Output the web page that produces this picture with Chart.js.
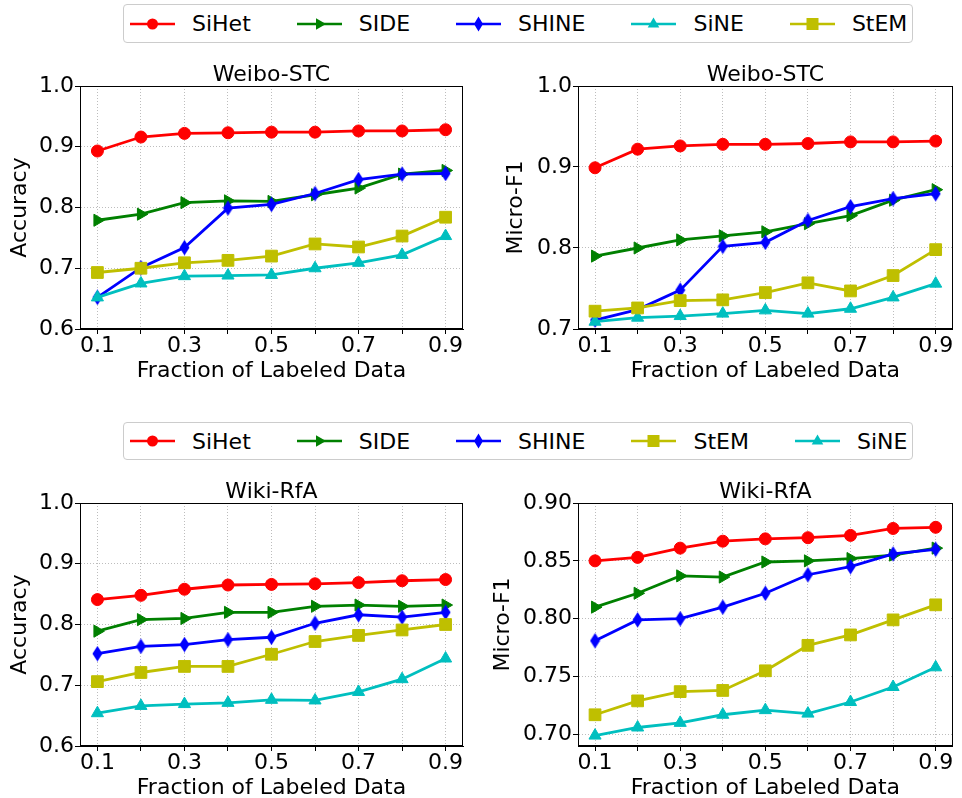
<!DOCTYPE html>
<html>
<head>
<meta charset="utf-8">
<title>Fraction of Labeled Data</title>
<script src="https://cdn.jsdelivr.net/npm/chart.js@4.4.0/dist/chart.umd.min.js"></script>
<style>
  html, body { margin: 0; padding: 0; background: #fff; overflow: hidden; }
  body { width: 962px; height: 798px; position: relative; font-family: "DejaVu Sans", sans-serif; }
  canvas.panel { position: absolute; }
  .legend {
    position: absolute; left: 123px; box-sizing: border-box;
    border: 1px solid #cccccc; border-radius: 4px; background: #fff;
    display: flex; align-items: center; padding: 0 5px 0 6px;
    font-size: 22px; color: #000; white-space: nowrap;
  }
  .legend .item { display: flex; align-items: center; margin-right: 46px; }
  .legend .item:last-child { margin-right: 0; }
  .legend svg { margin-right: 17px; display: block; }
</style>
</head>
<body>
<div class="legend" id="legendTop" style="top:4px;height:39px;"></div>
<div class="legend" id="legendBottom" style="top:422px;height:38px;"></div>
<canvas class="panel" id="weiboAcc" width="480" height="332" style="left:0;top:50px;"></canvas>
<canvas class="panel" id="weiboF1" width="482" height="332" style="left:480px;top:50px;"></canvas>
<canvas class="panel" id="wikiAcc" width="480" height="332" style="left:0;top:467px;"></canvas>
<canvas class="panel" id="wikiF1" width="482" height="332" style="left:480px;top:467px;"></canvas>
<script>
const fractions = [0.1, 0.2, 0.3, 0.4, 0.5, 0.6, 0.7, 0.8, 0.9];
const xTickLabels = ['0.1', '', '0.3', '', '0.5', '', '0.7', '', '0.9'];

const accTicks = [0.6, 0.7, 0.8, 0.9, 1.0];
const accTickLabels = ['0.6', '0.7', '0.8', '0.9', '1.0'];
const weiboF1Ticks = [0.7, 0.8, 0.9, 1.0];
const weiboF1TickLabels = ['0.7', '0.8', '0.9', '1.0'];
const wikiF1Ticks = [0.70, 0.75, 0.80, 0.85, 0.90];
const wikiF1TickLabels = ['0.70', '0.75', '0.80', '0.85', '0.90'];

// Weibo-STC, accuracy
const weiboAccSiHet = [0.893, 0.916, 0.922, 0.923, 0.924, 0.924, 0.926, 0.926, 0.928];
const weiboAccSIDE  = [0.779, 0.789, 0.808, 0.811, 0.810, 0.821, 0.832, 0.855, 0.861];
const weiboAccSHINE = [0.652, 0.701, 0.734, 0.799, 0.805, 0.823, 0.846, 0.855, 0.856];
const weiboAccSiNE  = [0.652, 0.675, 0.687, 0.688, 0.689, 0.700, 0.709, 0.722, 0.753];
const weiboAccStEM  = [0.693, 0.700, 0.709, 0.713, 0.720, 0.740, 0.735, 0.753, 0.784];

// Weibo-STC, micro-F1
const weiboF1SiHet = [0.899, 0.922, 0.926, 0.928, 0.928, 0.929, 0.931, 0.931, 0.932];
const weiboF1SIDE  = [0.790, 0.800, 0.810, 0.815, 0.820, 0.830, 0.840, 0.859, 0.872];
const weiboF1SHINE = [0.711, 0.724, 0.748, 0.802, 0.807, 0.834, 0.851, 0.861, 0.867];
const weiboF1SiNE  = [0.709, 0.714, 0.716, 0.719, 0.723, 0.719, 0.725, 0.739, 0.756];
const weiboF1StEM  = [0.722, 0.726, 0.735, 0.736, 0.745, 0.757, 0.747, 0.766, 0.798];

// Wiki-RfA, accuracy
const wikiAccSiHet = [0.841, 0.848, 0.858, 0.865, 0.866, 0.867, 0.869, 0.872, 0.874];
const wikiAccSIDE  = [0.789, 0.808, 0.810, 0.820, 0.820, 0.830, 0.832, 0.830, 0.832];
const wikiAccSHINE = [0.752, 0.764, 0.767, 0.775, 0.779, 0.802, 0.816, 0.812, 0.820];
const wikiAccSiNE  = [0.654, 0.666, 0.669, 0.671, 0.676, 0.675, 0.689, 0.710, 0.744];
const wikiAccStEM  = [0.706, 0.721, 0.731, 0.731, 0.751, 0.772, 0.782, 0.791, 0.800];

// Wiki-RfA, micro-F1
const wikiF1SiHet = [0.850, 0.853, 0.861, 0.867, 0.869, 0.870, 0.872, 0.878, 0.879];
const wikiF1SIDE  = [0.810, 0.822, 0.837, 0.836, 0.849, 0.850, 0.852, 0.855, 0.861];
const wikiF1SHINE = [0.781, 0.799, 0.800, 0.810, 0.822, 0.838, 0.845, 0.856, 0.860];
const wikiF1SiNE  = [0.699, 0.706, 0.710, 0.717, 0.721, 0.718, 0.728, 0.741, 0.758];
const wikiF1StEM  = [0.717, 0.729, 0.737, 0.738, 0.755, 0.777, 0.786, 0.799, 0.812];

const topOrder = ['SiHet', 'SIDE', 'SHINE', 'SiNE', 'StEM'];
const bottomOrder = ['SiHet', 'SIDE', 'SHINE', 'StEM', 'SiNE'];

const FONT = 'DejaVu Sans';
Chart.defaults.font.family = FONT;
Chart.defaults.color = '#000';

// matplotlib-style thin diamond marker
function thinDiamond(color) {
    const c = document.createElement('canvas');
    c.width = 11;
    c.height = 16;
    const g = c.getContext('2d');
    g.fillStyle = color;
    g.beginPath();
    g.moveTo(5.5, 0.3);
    g.lineTo(10.5, 8);
    g.lineTo(5.5, 15.7);
    g.lineTo(0.5, 8);
    g.closePath();
    g.fill();
    return c;
}

const styles = {
    SiHet: { color: '#ff0000', pointStyle: 'circle', radius: 6, rotation: 0 },
    SIDE:  { color: '#008000', pointStyle: 'triangle', radius: 7, rotation: 90 },
    SHINE: { color: '#0000ff', pointStyle: thinDiamond('#0000ff'), radius: 7, rotation: 0 },
    SiNE:  { color: '#00bfbf', pointStyle: 'triangle', radius: 7, rotation: 0 },
    StEM:  { color: '#bfbf00', pointStyle: 'rect', radius: 8.3, rotation: 0 },
};

// box around the plot area (top and right spines too)
const framePlugin = {
    id: 'frame',
    afterDatasetsDraw(chart) {
        const { ctx, chartArea: a } = chart;
        ctx.save();
        ctx.strokeStyle = '#000';
        ctx.lineWidth = 1;
        ctx.strokeRect(Math.round(a.left) + 0.5, Math.round(a.top) + 0.5,
            Math.round(a.right) - Math.round(a.left) - 1, Math.round(a.bottom) - Math.round(a.top) - 1);
        ctx.restore();
    },
};

function drawPanel(id, cfg) {
    const datasets = cfg.order.map((name, i) => {
        const s = styles[name];
        return {
            label: name,
            data: fractions.map((x, j) => ({ x: x, y: cfg.values[name][j] })),
            borderColor: s.color,
            backgroundColor: s.color,
            borderWidth: 2.8,
            pointStyle: s.pointStyle,
            pointRadius: s.radius,
            pointRotation: s.rotation,
            pointBackgroundColor: s.color,
            pointBorderColor: s.color,
            pointBorderWidth: 1,
            tension: 0,
            order: cfg.order.length - i,
        };
    });

    new Chart(document.getElementById(id), {
        type: 'line',
        data: { datasets },
        plugins: [framePlugin],
        options: {
            responsive: false,
            animation: false,
            events: [],
            layout: { padding: { left: 0, right: cfg.rightPad, top: 0, bottom: 0 } },
            plugins: {
                legend: { display: false },
                tooltip: { enabled: false },
                title: { display: false },
            },
            scales: {
                x: {
                    type: 'linear',
                    position: 'bottom',
                    min: 0.06,
                    max: 0.94,
                    afterBuildTicks: (s) => { s.ticks = fractions.map((v) => ({ value: v })); },
                    afterFit: (s) => { s.height = 53; },
                    ticks: {
                        autoSkip: false,
                        maxRotation: 0,
                        padding: 1.5,
                        font: { size: 22, lineHeight: 1 },
                        callback: (v, i) => xTickLabels[i],
                    },
                    grid: { color: '#bdbdbd', lineWidth: 1, tickLength: 5, tickColor: '#000', tickWidth: 1 },
                    border: { color: '#000', width: 1, dash: [1, 2] },
                    title: {
                        display: true,
                        text: 'Fraction of Labeled Data',
                        font: { size: 22, lineHeight: 1 },
                        padding: { top: 0, bottom: 0 },
                    },
                },
                top: {
                    type: 'linear',
                    position: 'top',
                    min: 0.06,
                    max: 0.94,
                    afterFit: (s) => { s.height = 36; },
                    ticks: { display: false },
                    grid: { display: false, drawTicks: false },
                    border: { display: false },
                    title: {
                        display: true,
                        text: cfg.title,
                        font: { size: 22, lineHeight: 1 },
                        padding: { top: 14, bottom: 0 },
                    },
                },
                y: {
                    type: 'linear',
                    position: 'left',
                    min: cfg.yMin,
                    max: cfg.yMax,
                    afterBuildTicks: (s) => { s.ticks = cfg.yTicks.map((v) => ({ value: v })); },
                    afterFit: (s) => { s.width = cfg.yAxisWidth; },
                    ticks: {
                        padding: 1,
                        font: { size: 22, lineHeight: 1 },
                        callback: (v, i) => cfg.yTickLabels[i],
                    },
                    grid: { color: '#bdbdbd', lineWidth: 1, tickLength: 5, tickColor: '#000', tickWidth: 1 },
                    border: { color: '#000', width: 1, dash: [1, 2] },
                    title: {
                        display: true,
                        text: cfg.yLabel,
                        font: { size: 22, lineHeight: 1 },
                        padding: { top: cfg.yTitlePad, bottom: 0 },
                    },
                },
            },
        },
    });
}

drawPanel('weiboAcc', {
    title: 'Weibo-STC', yLabel: 'Accuracy',
    yMin: 0.6, yMax: 1.0, yTicks: accTicks, yTickLabels: accTickLabels,
    yAxisWidth: 80, yTitlePad: 9, rightPad: 17, order: topOrder,
    values: { SiHet: weiboAccSiHet, SIDE: weiboAccSIDE, SHINE: weiboAccSHINE, SiNE: weiboAccSiNE, StEM: weiboAccStEM },
});
drawPanel('weiboF1', {
    title: 'Weibo-STC', yLabel: 'Micro-F1',
    yMin: 0.7, yMax: 1.0, yTicks: weiboF1Ticks, yTickLabels: weiboF1TickLabels,
    yAxisWidth: 98, yTitlePad: 25, rightPad: 2, order: topOrder,
    values: { SiHet: weiboF1SiHet, SIDE: weiboF1SIDE, SHINE: weiboF1SHINE, SiNE: weiboF1SiNE, StEM: weiboF1StEM },
});
drawPanel('wikiAcc', {
    title: 'Wiki-RfA', yLabel: 'Accuracy',
    yMin: 0.6, yMax: 1.0, yTicks: accTicks, yTickLabels: accTickLabels,
    yAxisWidth: 80, yTitlePad: 9, rightPad: 17, order: bottomOrder,
    values: { SiHet: wikiAccSiHet, SIDE: wikiAccSIDE, SHINE: wikiAccSHINE, SiNE: wikiAccSiNE, StEM: wikiAccStEM },
});
drawPanel('wikiF1', {
    title: 'Wiki-RfA', yLabel: 'Micro-F1',
    yMin: 0.69, yMax: 0.90, yTicks: wikiF1Ticks, yTickLabels: wikiF1TickLabels,
    yAxisWidth: 98, yTitlePad: 12, rightPad: 2, order: bottomOrder,
    values: { SiHet: wikiF1SiHet, SIDE: wikiF1SIDE, SHINE: wikiF1SHINE, SiNE: wikiF1SiNE, StEM: wikiF1StEM },
});

// legend swatch: line with the series marker in the middle
function legendIcon(name) {
    const c = styles[name].color;
    let marker = '';
    if (name === 'SiHet') marker = `<circle cx="22.5" cy="8" r="5.5" fill="${c}"/>`;
    if (name === 'SIDE') marker = `<polygon points="29,8 19,2.2 19,13.8" fill="${c}"/>`;
    if (name === 'SHINE') marker = `<polygon points="22.5,0.5 27,8 22.5,15.5 18,8" fill="${c}"/>`;
    if (name === 'SiNE') marker = `<polygon points="22.5,1.5 28.3,11.5 16.7,11.5" fill="${c}"/>`;
    if (name === 'StEM') marker = `<rect x="16.5" y="2" width="12" height="12" fill="${c}"/>`;
    return `<svg width="45" height="16" viewBox="0 0 45 16">` +
        `<line x1="0" y1="8" x2="45" y2="8" stroke="${c}" stroke-width="2.6"/>${marker}</svg>`;
}

function buildLegend(id, order) {
    document.getElementById(id).innerHTML = order
        .map((name) => `<div class="item">${legendIcon(name)}<span>${name}</span></div>`)
        .join('');
}

buildLegend('legendTop', topOrder);
buildLegend('legendBottom', bottomOrder);
</script>
</body>
</html>
